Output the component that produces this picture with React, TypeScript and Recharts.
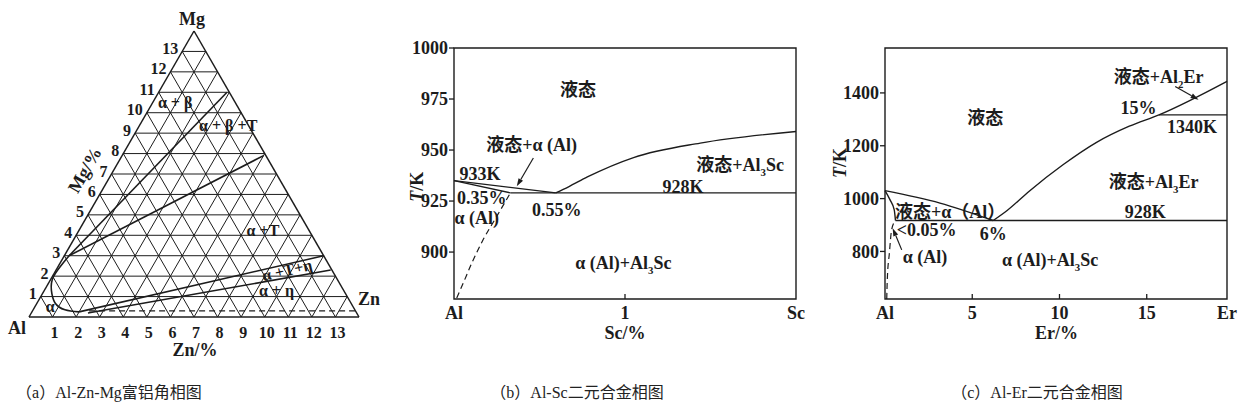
import React from "react";
import {
  ComposedChart,
  Line,
  XAxis,
  YAxis,
  ReferenceLine,
  ReferenceDot,
  ReferenceArea,
} from "recharts";

const FONT = '"Liberation Serif", "Noto Sans CJK SC", serif';
const INK = "#1c1c1c";
const SQ = Math.sqrt(3) / 2;

type Pt = [number, number];

// ---------- (a) Al-Zn-Mg 富铝角, points are [Zn%, Mg%] ----------
const ternarySpan = 14;
const ternaryTicks = [1, 2, 3, 4, 5, 6, 7, 8, 9, 10, 11, 12, 13];
const alphaSolvus: Pt[] = [[0.2, 3.0], [0.05, 2.0], [0.3, 1.3], [0.75, 0.7], [1.35, 0.35], [2.0, 0.25]];
const betaBoundary: Pt[] = [[0.2, 3.0], [2.9, 11.0]];
const tBoundary: Pt[] = [[0.2, 3.0], [6.0, 7.9]];
const etaUpper: Pt[] = [[2.0, 0.25], [11.0, 3.0]];
const etaLower: Pt[] = [[2.4, 0.2], [11.65, 2.3]];
const dashedBase: Pt[] = [[2.4, 0.3], [13.7, 0.3]];
const ternaryPhases = [
  { text: "α + β", zn: 0.95, mg: 10.5 },
  { text: "α + β +T", zn: 3.75, mg: 9.4 },
  { text: "α +T", zn: 7.8, mg: 4.25 },
  { text: "α +T+η", zn: 9.8, mg: 2.3, rotate: -13 },
  { text: "α + η", zn: 9.85, mg: 1.3 },
  { text: "α", zn: 0.65, mg: 0.5 },
];

// ---------- (b) Al-Sc ----------
const scXTicks = [0, 1, 2];
const scXLabels: Record<number, string> = { 0: "Al", 1: "1", 2: "Sc" };
const scYTicks = [900, 925, 950, 975, 1000];
const scLiquidusAl: Pt[] = [[0, 935], [0.595, 929]];
const scSolidus: Pt[] = [[0, 935], [0.33, 929]];
const scEutectic: Pt[] = [[0.33, 929], [2, 929]];
const scLiquidusSc: Pt[] = [[0.595, 929], [0.67, 932], [0.78, 936.8], [1.05, 946.3], [1.44, 953.4], [2, 959.1]];
const scSolvus: Pt[] = [[0.016, 877.5], [0.054, 884.8], [0.104, 894.6], [0.17, 906], [0.25, 917.5], [0.33, 929]];
const scArrow: Pt[] = [[0.464, 946.1], [0.367, 932.2]];
const scLabels = [
  { text: "液态", x: 0.725, y: 979.6 },
  { text: "液态+α (Al)", x: 0.454, y: 952.6 },
  { text: "933K", x: 0.152, y: 938.4 },
  { text: "液态+Al_3Sc", x: 1.673, y: 942.8 },
  { text: "928K", x: 1.339, y: 932.0 },
  { text: "0.35%", x: 0.162, y: 926.5 },
  { text: "0.55%", x: 0.601, y: 920.8 },
  { text: "α (Al)", x: 0.133, y: 916.7 },
  { text: "α (Al)+Al_3Sc", x: 0.99, y: 894.6 },
];

// ---------- (c) Al-Er ----------
const erXTicks = [0, 5, 10, 15, 19.6];
const erXLabels: Record<number, string> = { 0: "Al", 5: "5", 10: "10", 15: "15", 19.6: "Er" };
const erYTicks = [800, 1000, 1200, 1400];
const erLiquidusAl: Pt[] = [[0, 1030], [3.15, 983], [6.2, 917]];
const erSolidus: Pt[] = [[0, 1030], [0.29, 995], [0.53, 957], [0.6, 917]];
const erEutectic: Pt[] = [[0.6, 917], [19.6, 917]];
const erLiquidusEr: Pt[] = [[6.2, 917], [7.0, 955], [8.3, 1030], [10.2, 1128], [12.1, 1212], [14.0, 1274], [15.7, 1317], [19.6, 1444]];
const erPeritectic: Pt[] = [[15.7, 1317], [19.6, 1317]];
const erSolvus: Pt[] = [[0.1, 620], [0.13, 692], [0.25, 793], [0.38, 882], [0.6, 917]];
const erArrowAlpha: Pt[] = [[0.958, 806], [0.44, 888]];
const erArrowAl2Er: Pt[] = [[16.63, 1424.5], [17.97, 1374]];
const erLabels = [
  { text: "液态", x: 5.74, y: 1306 },
  { text: "液态+Al_2Er", x: 15.68, y: 1462 },
  { text: "15%", x: 14.53, y: 1343 },
  { text: "1340K", x: 17.59, y: 1273 },
  { text: "液态+Al_3Er", x: 15.39, y: 1064 },
  { text: "928K", x: 14.91, y: 951 },
  { text: "液态+α（Al）", x: 3.73, y: 951 },
  { text: "<0.05%", x: 2.39, y: 881 },
  { text: "6%", x: 6.21, y: 869 },
  { text: "α (Al)", x: 2.29, y: 780 },
  { text: "α (Al)+Al_3Sc", x: 9.46, y: 770 },
];

const captions = [
  { text: "（a）Al-Zn-Mg富铝角相图", center: 109 },
  { text: "（b）Al-Sc二元合金相图", center: 577 },
  { text: "（c）Al-Er二元合金相图", center: 1037 },
];

const toXY = ([zn, mg]: Pt) => ({ x: zn + mg / 2, y: mg * SQ });
const toRows = (pts: Pt[]) => pts.map(([x, y]) => ({ x, y }));

function RichText({ x, y, text, size = 18, anchor = "middle", rotate = 0, weight = "bold" }: any) {
  const parts = text.split(/(_\d)/).filter(Boolean);
  let shifted = false;
  const spans = parts.map((p: string, i: number) => {
    if (p.startsWith("_")) {
      shifted = true;
      return (
        <tspan key={i} dy={size * 0.28} fontSize={size * 0.6}>
          {p.slice(1)}
        </tspan>
      );
    }
    const dy = shifted ? -size * 0.28 : undefined;
    shifted = false;
    return (
      <tspan key={i} dy={dy}>
        {p}
      </tspan>
    );
  });
  const by = y + size * 0.35;
  return (
    <text
      x={x}
      y={by}
      textAnchor={anchor}
      fontFamily={FONT}
      fontSize={size}
      fontWeight={weight}
      fill={INK}
      transform={rotate ? `rotate(${rotate} ${x} ${y})` : undefined}
    >
      {spans}
    </text>
  );
}

function arrowShape(p: any) {
  const { x1, y1, x2, y2 } = p;
  const a = Math.atan2(y2 - y1, x2 - x1);
  const len = 8;
  const w = 2.6;
  const bx = x2 - len * Math.cos(a);
  const by = y2 - len * Math.sin(a);
  const ox = -Math.sin(a) * w;
  const oy = Math.cos(a) * w;
  return (
    <g>
      <line x1={x1} y1={y1} x2={bx} y2={by} stroke={INK} strokeWidth={1.2} />
      <path d={`M${x2},${y2}L${bx + ox},${by + oy}L${bx - ox},${by - oy}Z`} fill={INK} />
    </g>
  );
}

const bottomTick = (labels: Record<number, string>, lo: number, hi: number) => (p: any) => {
  const v = p.payload.value;
  return (
    <g>
      {v > lo && v < hi && <line x1={p.x} x2={p.x} y1={p.y} y2={p.y - 5} stroke={INK} strokeWidth={1.3} />}
      <RichText x={p.x} y={p.y + 14} text={labels[v] ?? String(v)} />
    </g>
  );
};

const leftTick = (p: any) => (
  <g>
    <line x1={p.x - 5} x2={p.x} y1={p.y} y2={p.y} stroke={INK} strokeWidth={1.3} />
    <RichText x={p.x - 6} y={p.y} text={String(p.payload.value)} anchor="end" />
  </g>
);

const axisTitle = (text: string, dx: number, dy: number, rotate = 0, italicFirst = false) => (p: any) => {
  const x = p.cx + dx;
  const y = p.cy + dy;
  return (
    <text
      x={x}
      y={y + 6}
      textAnchor="middle"
      fontFamily={FONT}
      fontSize={18}
      fontWeight="bold"
      fill={INK}
      transform={rotate ? `rotate(${rotate} ${x} ${y})` : undefined}
    >
      {italicFirst ? (
        <>
          <tspan fontStyle="italic">{text[0]}</tspan>
          {text.slice(1)}
        </>
      ) : (
        text
      )}
    </text>
  );
};

const curveProps = {
  dataKey: "y",
  dot: false,
  activeDot: false,
  isAnimationActive: false,
  stroke: INK,
  strokeWidth: 1.4,
  legendType: "none" as const,
};

function TernaryChart() {
  const grid: [Pt, Pt][] = ternaryTicks.flatMap((k) => [
    [[0, k], [ternarySpan - k, k]] as [Pt, Pt],
    [[k, 0], [k, ternarySpan - k]] as [Pt, Pt],
    [[k, 0], [0, k]] as [Pt, Pt],
  ]);
  const frame: [Pt, Pt][] = [
    [[0, 0], [ternarySpan, 0]],
    [[0, 0], [0, ternarySpan]],
    [[ternarySpan, 0], [0, ternarySpan]],
  ];
  const curves = [alphaSolvus, betaBoundary, tBoundary, etaUpper, etaLower];
  return (
    <ComposedChart width={400} height={370} margin={{ top: 31, right: 41, bottom: 53, left: 29 }}>
      <XAxis type="number" dataKey="x" domain={[0, ternarySpan]} hide />
      <YAxis type="number" domain={[0, ternarySpan * SQ]} hide />
      {grid.map(([a, b], i) => (
        <ReferenceLine key={`g${i}`} segment={[toXY(a), toXY(b)]} stroke={INK} strokeWidth={1} ifOverflow="visible" />
      ))}
      {frame.map(([a, b], i) => (
        <ReferenceLine key={`f${i}`} segment={[toXY(a), toXY(b)]} stroke={INK} strokeWidth={1.5} ifOverflow="visible" />
      ))}
      {curves.map((c, i) => (
        <Line key={`c${i}`} {...curveProps} type="natural" strokeWidth={1.6} data={c.map(toXY)} />
      ))}
      <Line {...curveProps} type="linear" strokeDasharray="6 4" data={dashedBase.map(toXY)} />
      {ternaryTicks.map((k) => (
        <ReferenceDot
          key={`mg${k}`}
          {...toXY([0, k])}
          r={0}
          ifOverflow="visible"
          shape={(p: any) => <RichText x={p.cx - 4} y={p.cy - 3} text={String(k)} size={16} anchor="end" />}
        />
      ))}
      {ternaryTicks.map((k) => (
        <ReferenceDot
          key={`zn${k}`}
          {...toXY([k, 0])}
          r={0}
          ifOverflow="visible"
          shape={(p: any) => <RichText x={p.cx + 2} y={p.cy + 15} text={String(k)} size={16} />}
        />
      ))}
      {ternaryPhases.map((l) => (
        <ReferenceDot
          key={l.text}
          {...toXY([l.zn, l.mg])}
          r={0}
          ifOverflow="visible"
          shape={(p: any) => <RichText x={p.cx} y={p.cy} text={l.text} size={16} rotate={l.rotate ?? 0} />}
        />
      ))}
      <ReferenceDot {...toXY([0, ternarySpan])} r={0} ifOverflow="visible" shape={axisTitle("Mg", -2, -12)} />
      <ReferenceDot {...toXY([0, 0])} r={0} ifOverflow="visible" shape={axisTitle("Al", -12, 11)} />
      <ReferenceDot {...toXY([ternarySpan, 0])} r={0} ifOverflow="visible" shape={axisTitle("Zn", 10, -18)} />
      <ReferenceDot {...toXY([7, 0])} r={0} ifOverflow="visible" shape={axisTitle("Zn/%", 1, 33)} />
      <ReferenceDot {...toXY([0, 7.2])} r={0} ifOverflow="visible" shape={axisTitle("Mg/%", -29, 0, -60)} />
    </ComposedChart>
  );
}

function BinaryChart({
  width,
  xDomain,
  yDomain,
  xTicks,
  xLabels,
  yTicks,
  solid,
  smooth,
  dashed,
  arrows,
  labels,
  xTitle,
  yTitleDx,
  yTitleAt,
  margin,
}: any) {
  return (
    <ComposedChart width={width} height={350} margin={margin}>
      <XAxis
        type="number"
        dataKey="x"
        domain={xDomain}
        ticks={xTicks}
        interval={0}
        height={30}
        axisLine={false}
        tickLine={false}
        tickSize={0}
        tickMargin={0}
        tick={bottomTick(xLabels, xDomain[0], xDomain[1])}
      />
      <YAxis
        type="number"
        domain={yDomain}
        ticks={yTicks}
        interval={0}
        width={40}
        axisLine={false}
        tickLine={false}
        tickSize={0}
        tickMargin={0}
        tick={leftTick}
      />
      <ReferenceArea
        x1={xDomain[0]}
        x2={xDomain[1]}
        y1={yDomain[0]}
        y2={yDomain[1]}
        fill="none"
        fillOpacity={0}
        stroke={INK}
        strokeWidth={1.4}
        ifOverflow="visible"
      />
      {solid.map((c: Pt[], i: number) => (
        <Line key={`s${i}`} {...curveProps} type="linear" data={toRows(c)} />
      ))}
      {smooth.map((c: Pt[], i: number) => (
        <Line key={`m${i}`} {...curveProps} type="monotone" data={toRows(c)} />
      ))}
      <Line {...curveProps} type="monotone" strokeWidth={1.2} strokeDasharray="6 4" data={toRows(dashed)} />
      {arrows.map((a: Pt[], i: number) => (
        <ReferenceLine key={`a${i}`} segment={toRows(a)} ifOverflow="visible" shape={arrowShape} />
      ))}
      {labels.map((l: any) => (
        <ReferenceDot
          key={l.text + l.x}
          x={l.x}
          y={l.y}
          r={0}
          ifOverflow="visible"
          shape={(p: any) => <RichText x={p.cx} y={p.cy} text={l.text} />}
        />
      ))}
      <ReferenceDot x={xTitle.x} y={yDomain[0]} r={0} ifOverflow="visible" shape={axisTitle(xTitle.text, xTitle.dx, 34)} />
      <ReferenceDot
        x={xDomain[0]}
        y={yTitleAt}
        r={0}
        ifOverflow="visible"
        shape={axisTitle("T/K", yTitleDx, 0, -90, true)}
      />
    </ComposedChart>
  );
}

export default function App() {
  return (
    <div
      style={{
        position: "absolute",
        left: 0,
        top: 0,
        width: 1243,
        height: 416,
        background: "#fff",
        overflow: "hidden",
      }}
    >
      <div style={{ position: "absolute", left: 0, top: 0 }}>
        <TernaryChart />
      </div>
      <div style={{ position: "absolute", left: 400, top: 0 }}>
        <BinaryChart
          width={420}
          margin={{ top: 48, right: 24, bottom: 21, left: 14 }}
          xDomain={[0, 2]}
          yDomain={[877, 1000]}
          xTicks={scXTicks}
          xLabels={scXLabels}
          yTicks={scYTicks}
          solid={[scLiquidusAl, scSolidus, scEutectic]}
          smooth={[scLiquidusSc]}
          dashed={scSolvus}
          arrows={[scArrow]}
          labels={scLabels}
          xTitle={{ text: "Sc/%", x: 1, dx: 0 }}
          yTitleDx={-37}
          yTitleAt={932}
        />
      </div>
      <div style={{ position: "absolute", left: 830, top: 0 }}>
        <BinaryChart
          width={413}
          margin={{ top: 48, right: 16, bottom: 21, left: 15 }}
          xDomain={[0, 19.6]}
          yDomain={[620, 1570]}
          xTicks={erXTicks}
          xLabels={erXLabels}
          yTicks={erYTicks}
          solid={[erEutectic, erPeritectic]}
          smooth={[erLiquidusAl, erSolidus, erLiquidusEr]}
          dashed={erSolvus}
          arrows={[erArrowAlpha, erArrowAl2Er]}
          labels={erLabels}
          xTitle={{ text: "Er/%", x: 10, dx: -3 }}
          yTitleDx={-45}
          yTitleAt={1135}
        />
      </div>
      {captions.map((c) => (
        <div
          key={c.text}
          style={{
            position: "absolute",
            left: c.center - 120,
            width: 240,
            top: 382,
            textAlign: "center",
            fontFamily: '"Liberation Serif", "Noto Sans CJK SC"',
            fontSize: 16,
            lineHeight: "22px",
            color: "#222",
          }}
        >
          {c.text}
        </div>
      ))}
    </div>
  );
}
